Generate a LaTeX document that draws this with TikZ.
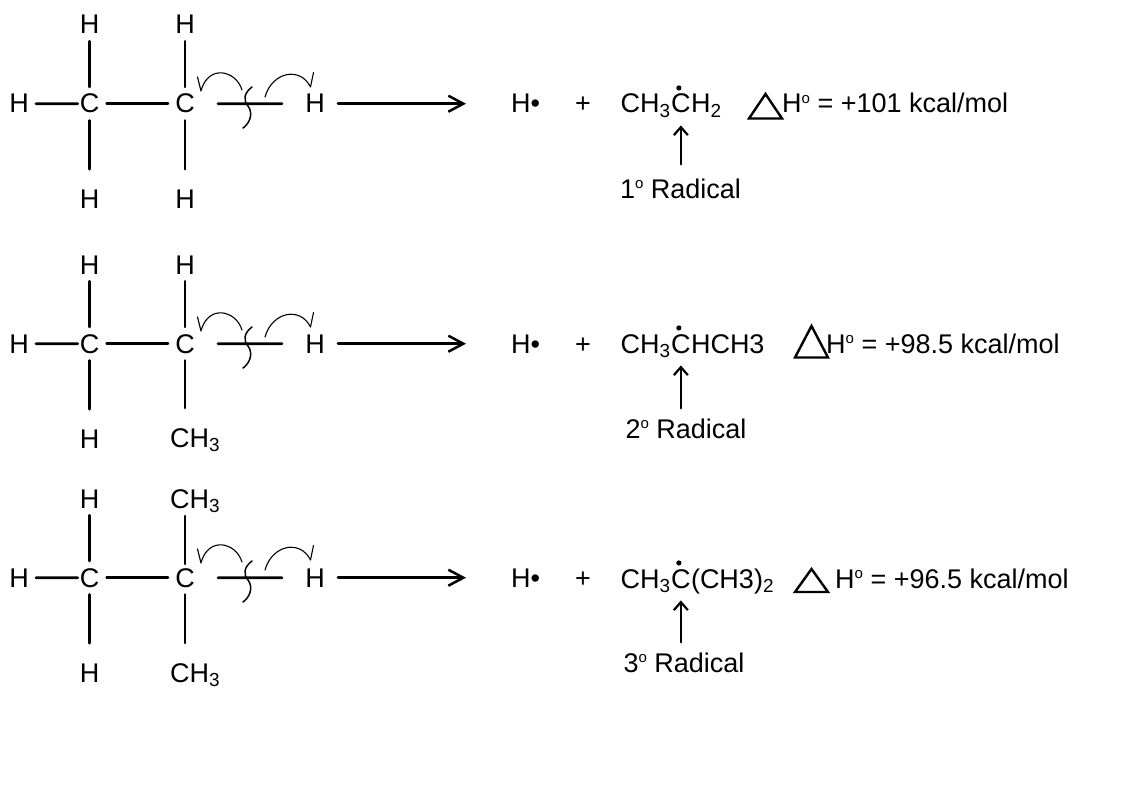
\documentclass[tikz,border=0pt]{standalone}
\usepackage{fontspec}
\setmainfont{Liberation Sans}
\usepackage{tikz}
\usetikzlibrary{arrows.meta}
\newcommand{\supo}{\raisebox{0.36em}{\fontsize{15}{15}\selectfont o}}

\begin{document}
\begin{tikzpicture}[x=1pt,y=-1pt,line cap=round,line join=round,
    font=\fontsize{27}{32}\selectfont,
    atom/.style={inner sep=0pt,anchor=base},
    bond/.style={line width=2.6pt,shorten <=7pt,shorten >=7pt},
    hook/.style={line width=1.1pt},
    cut/.style={line width=1.5pt},
    rxn/.style={line width=2.5pt,-{Straight Barb[length=15pt,width=16pt]}},
    radarrow/.style={line width=2.2pt,-{Straight Barb[length=8pt,width=14pt]}},
    delta/.style={line width=2.4pt,line join=miter}]
        \useasboundingbox (0,0) rectangle (1136,800);
        % ethane
        \node[atom] (hla) at (19,113) {H};
        \node[atom] (c1a) at (89.7,113) {C};
        \node[atom] (c2a) at (185,113) {C};
        \node[atom] (hra) at (315,113) {H};
        \node[atom] (h1ta) at (89.7,34) {H};
        \node[atom] (h1ba) at (89.7,208) {H};
        \node[atom] (h2ta) at (185,34) {H};
        \node[atom] (h2ba) at (185,208) {H};
        \draw[bond,shorten >=2pt] (hla) -- (c1a);
        \draw[bond] (c1a) -- (c2a);
        \draw[bond,shorten <=23pt,shorten >=23pt] (c2a) -- (hra);
        \draw[bond] (h1ta) -- (c1a);
        \draw[bond,shorten >=20pt] (c1a) -- (h1ba);
        \draw[bond] (h2ta) -- (c2a);
        \draw[bond,shorten >=20pt] (c2a) -- (h2ba);
        \draw[hook] (242,90) .. controls (236,70) and (208,64) .. (201,91) -- (197.5,77);
        \draw[hook] (265,97) .. controls (272,72) and (300,66) .. (310.5,87) -- (313.5,72.5);
        \draw[cut] (252,87) .. controls (244,93) and (243,100) .. (248,106) .. controls (254,114) and (249,124) .. (243,128);
        \node[atom,anchor=base west] (hda) at (511,113) {H•};
        \node[atom] (pla) at (583,113) {+};
        \draw[rxn,shorten <=13pt,shorten >=45pt] (hra) -- (hda);
        \node[atom,anchor=base west] (p1a) at (620.5,113) {CH\textsubscript{3}};
        \node[atom,anchor=base west] (pca) at (p1a.base east) {C};
        \node[atom,anchor=base west] (p3a) at (pca.base east) {H\textsubscript{2}};
        \fill ([xshift=-2pt,yshift=6pt]pca.north) circle (2.6pt);
        \node[atom] (r1a) at (680.5,198) {1\supo{} Radical};
        \draw[radarrow,shorten <=14pt,shorten >=12pt] (r1a.north -| pca) -- (pca);
        \draw[delta] (749,118.5) -- (765.5,94) -- (782,118.5) -- cycle;
        \node[atom,anchor=base west] (dha) at (782,113) {H\supo{} = +101 kcal/mol};
        % propane
        \node[atom] (hlb) at (19,353) {H};
        \node[atom] (c1b) at (89.7,353) {C};
        \node[atom] (c2b) at (185,353) {C};
        \node[atom] (hrb) at (315,353) {H};
        \node[atom] (h1tb) at (89.7,274) {H};
        \node[atom] (h1bb) at (89.7,448) {H};
        \node[atom] (h2tb) at (185,274) {H};
        \node[atom,anchor=base west] (m2bb) at (170,447) {CH\textsubscript{3}};
        \draw[bond,shorten >=2pt] (hlb) -- (c1b);
        \draw[bond] (c1b) -- (c2b);
        \draw[bond,shorten <=23pt,shorten >=23pt] (c2b) -- (hrb);
        \draw[bond] (h1tb) -- (c1b);
        \draw[bond,shorten >=20pt] (c1b) -- (h1bb);
        \draw[bond] (h2tb) -- (c2b);
        \draw[bond,shorten >=20pt] (c2b) -- (c2b |- m2bb.north);
        \draw[hook] (242,330) .. controls (236,310) and (208,304) .. (201,331) -- (197.5,317);
        \draw[hook] (265,337) .. controls (272,312) and (300,306) .. (310.5,327) -- (313.5,312.5);
        \draw[cut] (252,327) .. controls (244,333) and (243,340) .. (248,346) .. controls (254,354) and (249,364) .. (243,368);
        \node[atom,anchor=base west] (hdb) at (511,353) {H•};
        \node[atom] (plb) at (583,353) {+};
        \draw[rxn,shorten <=13pt,shorten >=45pt] (hrb) -- (hdb);
        \node[atom,anchor=base west] (p1b) at (620.5,353) {CH\textsubscript{3}};
        \node[atom,anchor=base west] (pcb) at (p1b.base east) {C};
        \node[atom,anchor=base west] (p3b) at (pcb.base east) {HCH3};
        \fill ([xshift=-2pt,yshift=6pt]pcb.north) circle (2.6pt);
        \node[atom] (r2b) at (686,438) {2\supo{} Radical};
        \draw[radarrow,shorten <=10pt,shorten >=12pt] (r2b.north -| pcb) -- (pcb);
        \draw[delta] (795,357.5) -- (811.5,326) -- (828,357.5) -- cycle;
        \node[atom,anchor=base west] (dhb) at (826,353) {H\supo{} = +98.5 kcal/mol};
        % isobutane
        \node[atom] (hlc) at (19,587) {H};
        \node[atom] (c1c) at (89.7,587) {C};
        \node[atom] (c2c) at (185,587) {C};
        \node[atom] (hrc) at (315,587) {H};
        \node[atom] (h1tc) at (89.7,508) {H};
        \node[atom] (h1bc) at (89.7,682) {H};
        \node[atom,anchor=base west] (m2tc) at (170,508) {CH\textsubscript{3}};
        \node[atom,anchor=base west] (m2bc) at (170,682) {CH\textsubscript{3}};
        \draw[bond,shorten >=2pt] (hlc) -- (c1c);
        \draw[bond] (c1c) -- (c2c);
        \draw[bond,shorten <=23pt,shorten >=23pt] (c2c) -- (hrc);
        \draw[bond] (h1tc) -- (c1c);
        \draw[bond,shorten >=20pt] (c1c) -- (h1bc);
        \draw[bond,shorten <=3pt,shorten >=4pt] (m2tc.south -| c2c) -- (c2c);
        \draw[bond,shorten >=20pt] (c2c) -- (c2c |- m2bc.north);
        \draw[hook] (242,562) .. controls (236,542) and (208,536) .. (201,563) -- (197.5,549);
        \draw[hook] (265,570) .. controls (272,545) and (300,539) .. (310.5,560) -- (313.5,545.5);
        \draw[cut] (252,561) .. controls (244,567) and (243,574) .. (248,580) .. controls (254,588) and (249,598) .. (243,602);
        \node[atom,anchor=base west] (hdc) at (511,587) {H•};
        \node[atom] (plc) at (583,587) {+};
        \draw[rxn,shorten <=13pt,shorten >=45pt] (hrc) -- (hdc);
        \node[atom,anchor=base west] (p1c) at (620.5,588) {CH\textsubscript{3}};
        \node[atom,anchor=base west] (pcc) at (p1c.base east) {C};
        \node[atom,anchor=base west] (p3c) at (pcc.base east) {(CH3)\textsubscript{2}};
        \fill ([xshift=-2pt,yshift=6pt]pcc.north) circle (2.6pt);
        \node[atom] (r3c) at (684,672) {3\supo{} Radical};
        \draw[radarrow,shorten <=10pt,shorten >=12pt] (r3c.north -| pcc) -- (pcc);
        \draw[delta] (795,592) -- (811.5,569) -- (828,592) -- cycle;
        \node[atom,anchor=base west] (dhc) at (835,588) {H\supo{} = +96.5 kcal/mol};
\end{tikzpicture}
\end{document}
